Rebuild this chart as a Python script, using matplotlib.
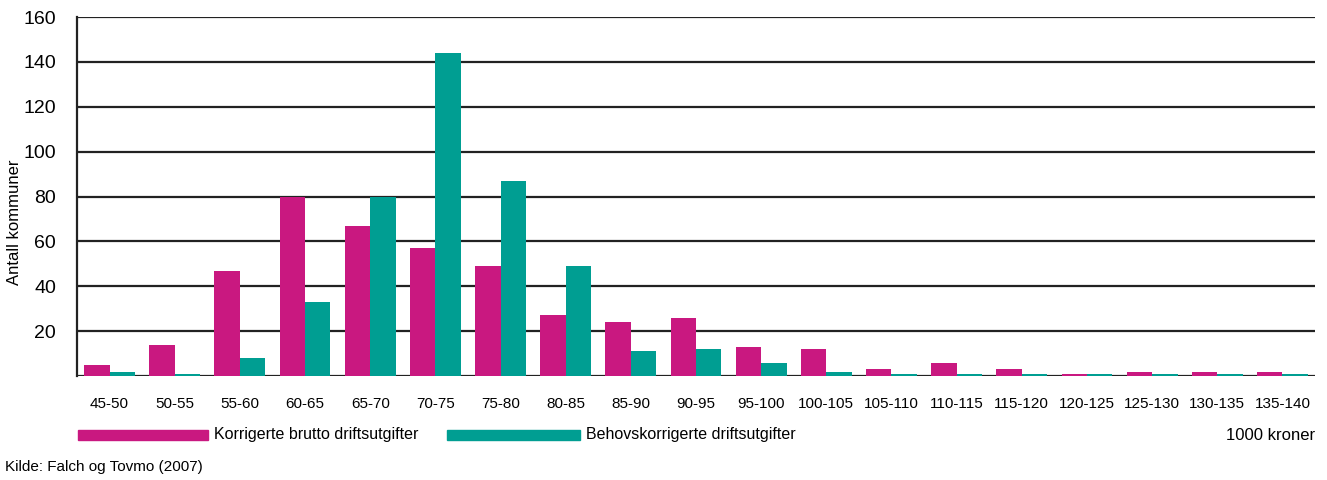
import matplotlib
matplotlib.use("Agg")
import numpy as np
import matplotlib.pyplot as plt
from matplotlib.patches import Rectangle

plt.rcParams['font.family'] = ['Liberation Sans Narrow', 'DejaVu Sans Condensed', 'Liberation Sans', 'DejaVu Sans']

# Data
categories = ["45-50", "50-55", "55-60", "60-65", "65-70", "70-75", "75-80", "80-85",
              "85-90", "90-95", "95-100", "100-105", "105-110", "110-115", "115-120",
              "120-125", "125-130", "130-135", "135-140"]
brutto = [5, 14, 47, 80, 67, 57, 49, 27, 24, 26, 13, 12, 3, 6, 3, 1, 2, 2, 2]
behov = [2, 1, 8, 33, 80, 144, 87, 49, 11, 12, 6, 2, 1, 1, 1, 1, 1, 1, 1]
yticks = [20, 40, 60, 80, 100, 120, 140, 160]

pink = "#C91880"
teal = "#009E92"

fig = plt.figure(figsize=(13.27, 4.8), dpi=100)
ax = fig.add_axes([77 / 1327, 1 - 376 / 480, (1315 - 77) / 1327, (376 - 17) / 480])

x = np.arange(len(categories))
w = 0.39
ax.bar(x - w / 2, brutto, width=w, color=pink, zorder=3)
ax.bar(x + w / 2, behov, width=w, color=teal, zorder=3)

ax.set_xlim(-0.5, len(categories) - 0.5)
ax.set_ylim(0, 160)
ax.set_yticks(yticks)
ax.set_yticklabels([str(t) for t in yticks], fontsize=14)
ax.set_xticks(x)
ax.set_xticklabels(categories, fontsize=11)
ax.tick_params(axis="both", length=0)
ax.tick_params(axis="y", pad=15)
ax.tick_params(axis="x", pad=15)

for t in [0] + yticks:
    ax.axhline(t, color="#222222", linewidth=1.6, zorder=1)

for s in ["top", "right", "bottom"]:
    ax.spines[s].set_visible(False)
ax.spines["left"].set_linewidth(1.6)
ax.spines["left"].set_color("#222222")

fig.text(15 / 1327, 1 - 222 / 480, "Antall kommuner", rotation=90, fontsize=12,
         ha="center", va="center")

# legend drawn as figure patches
fig.patches.append(Rectangle((78 / 1327, 1 - 440 / 480), 130 / 1327, 10 / 480,
                             transform=fig.transFigure, color=pink))
fig.text(214 / 1327, 1 - 435 / 480, "Korrigerte brutto driftsutgifter", fontsize=11.5,
         ha="left", va="center")
fig.patches.append(Rectangle((447 / 1327, 1 - 440 / 480), 133 / 1327, 10 / 480,
                             transform=fig.transFigure, color=teal))
fig.text(586 / 1327, 1 - 435 / 480, "Behovskorrigerte driftsutgifter", fontsize=11.5,
         ha="left", va="center")
fig.text(1315 / 1327, 1 - 435 / 480, "1000 kroner", fontsize=12, ha="right", va="center")

fig.text(5 / 1327, 1 - 467 / 480, "Kilde: Falch og Tovmo (2007)", fontsize=11,
         family=["Liberation Sans", "DejaVu Sans"], ha="left", va="center")

fig.savefig("out.png", dpi=100)
